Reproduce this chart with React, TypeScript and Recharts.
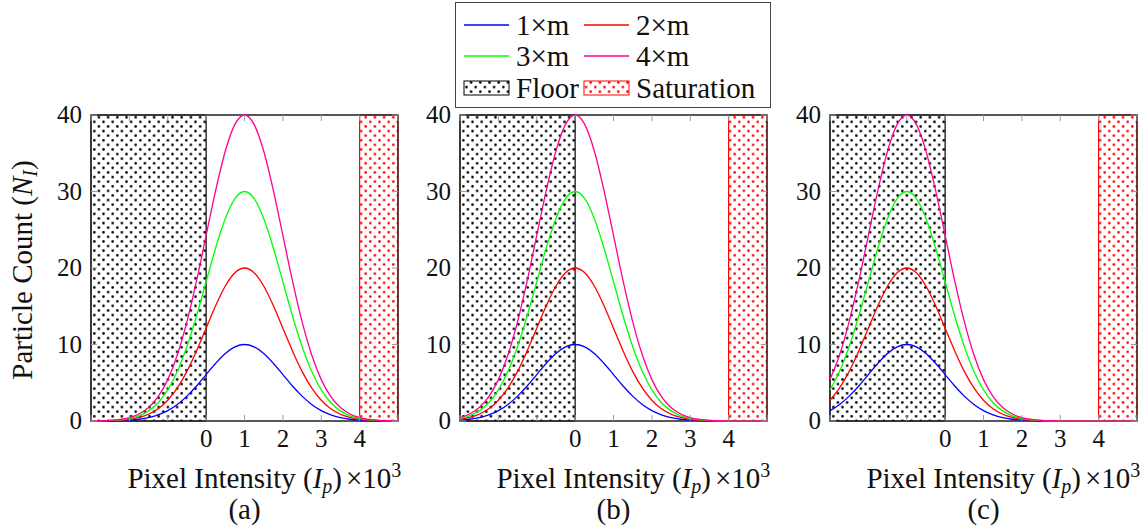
import React from 'react';
import { LineChart, Line, XAxis, YAxis, ReferenceArea } from 'recharts';

// pixel intensity (x10^3), shared by all three panels
const intensity = [
  -3, -2.75, -2.5, -2.25, -2, -1.75, -1.5, -1.25, -1, -0.75, -0.5, -0.25, 0,
  0.25, 0.5, 0.75, 1, 1.25, 1.5, 1.75, 2, 2.25, 2.5, 2.75, 3, 3.25, 3.5, 3.75,
  4, 4.25, 4.5, 4.75, 5,
];

// (a) peak at 1
const countsA1 = [0, 0.01, 0.02, 0.05, 0.11, 0.23, 0.44, 0.8, 1.35, 2.16, 3.25, 4.58, 6.07, 7.55, 8.83, 9.69, 10, 9.69, 8.83, 7.55, 6.07, 4.58, 3.25, 2.16, 1.35, 0.8, 0.44, 0.23, 0.11, 0.05, 0.02, 0.01, 0];
const countsA2 = [0.01, 0.02, 0.04, 0.1, 0.22, 0.46, 0.88, 1.59, 2.71, 4.33, 6.49, 9.16, 12.13, 15.1, 17.65, 19.38, 20, 19.38, 17.65, 15.1, 12.13, 9.16, 6.49, 4.33, 2.71, 1.59, 0.88, 0.46, 0.22, 0.1, 0.04, 0.02, 0.01];
const countsA3 = [0.01, 0.03, 0.07, 0.15, 0.33, 0.68, 1.32, 2.39, 4.06, 6.49, 9.74, 13.73, 18.2, 22.65, 26.48, 29.08, 30, 29.08, 26.48, 22.65, 18.2, 13.73, 9.74, 6.49, 4.06, 2.39, 1.32, 0.68, 0.33, 0.15, 0.07, 0.03, 0.01];
const countsA4 = [0.01, 0.04, 0.09, 0.2, 0.44, 0.91, 1.76, 3.18, 5.41, 8.65, 12.99, 18.31, 24.26, 30.19, 35.3, 38.77, 40, 38.77, 35.3, 30.19, 24.26, 18.31, 12.99, 8.65, 5.41, 3.18, 1.76, 0.91, 0.44, 0.2, 0.09, 0.04, 0.01];

// (b) peak at 0
const countsB1 = [0.11, 0.23, 0.44, 0.8, 1.35, 2.16, 3.25, 4.58, 6.07, 7.55, 8.83, 9.69, 10, 9.69, 8.83, 7.55, 6.07, 4.58, 3.25, 2.16, 1.35, 0.8, 0.44, 0.23, 0.11, 0.05, 0.02, 0.01, 0, 0, 0, 0, 0];
const countsB2 = [0.22, 0.46, 0.88, 1.59, 2.71, 4.33, 6.49, 9.16, 12.13, 15.1, 17.65, 19.38, 20, 19.38, 17.65, 15.1, 12.13, 9.16, 6.49, 4.33, 2.71, 1.59, 0.88, 0.46, 0.22, 0.1, 0.04, 0.02, 0.01, 0, 0, 0, 0];
const countsB3 = [0.33, 0.68, 1.32, 2.39, 4.06, 6.49, 9.74, 13.73, 18.2, 22.65, 26.48, 29.08, 30, 29.08, 26.48, 22.65, 18.2, 13.73, 9.74, 6.49, 4.06, 2.39, 1.32, 0.68, 0.33, 0.15, 0.07, 0.03, 0.01, 0, 0, 0, 0];
const countsB4 = [0.44, 0.91, 1.76, 3.18, 5.41, 8.65, 12.99, 18.31, 24.26, 30.19, 35.3, 38.77, 40, 38.77, 35.3, 30.19, 24.26, 18.31, 12.99, 8.65, 5.41, 3.18, 1.76, 0.91, 0.44, 0.2, 0.09, 0.04, 0.01, 0, 0, 0, 0];

// (c) peak at -1
const countsC1 = [1.35, 2.16, 3.25, 4.58, 6.07, 7.55, 8.83, 9.69, 10, 9.69, 8.83, 7.55, 6.07, 4.58, 3.25, 2.16, 1.35, 0.8, 0.44, 0.23, 0.11, 0.05, 0.02, 0.01, 0, 0, 0, 0, 0, 0, 0, 0, 0];
const countsC2 = [2.71, 4.33, 6.49, 9.16, 12.13, 15.1, 17.65, 19.38, 20, 19.38, 17.65, 15.1, 12.13, 9.16, 6.49, 4.33, 2.71, 1.59, 0.88, 0.46, 0.22, 0.1, 0.04, 0.02, 0.01, 0, 0, 0, 0, 0, 0, 0, 0];
const countsC3 = [4.06, 6.49, 9.74, 13.73, 18.2, 22.65, 26.48, 29.08, 30, 29.08, 26.48, 22.65, 18.2, 13.73, 9.74, 6.49, 4.06, 2.39, 1.32, 0.68, 0.33, 0.15, 0.07, 0.03, 0.01, 0, 0, 0, 0, 0, 0, 0, 0];
const countsC4 = [5.41, 8.65, 12.99, 18.31, 24.26, 30.19, 35.3, 38.77, 40, 38.77, 35.3, 30.19, 24.26, 18.31, 12.99, 8.65, 5.41, 3.18, 1.76, 0.91, 0.44, 0.2, 0.09, 0.04, 0.01, 0, 0, 0, 0, 0, 0, 0, 0];

const seriesNames = ['1×m', '2×m', '3×m', '4×m'];
const seriesColors = ['#0000ff', '#ff0000', '#00ff00', '#ff0090'];
const xTicks = [-3, -2, -1, 0, 1, 2, 3, 4, 5];
const xLabelled = [0, 1, 2, 3, 4];
const yTicks = [0, 10, 20, 30, 40];
const floorRange = [-3, 0];
const saturationRange = [4, 5];

const FONT = 'Liberation Serif';
const INK = '#111';
const TICK_GRAY = '#9a9a9a';
const TEXT_SIZE = 29;
const NUM_SIZE = 25;

// chart-local layout
const PL = 91;
const PW = 307;
const PR = PL + PW;
const PT = 115;
const PB = 421;
const CHART_W = PR + 10;
const CHART_H = 529;

const XTick = (props: any) => {
  const { x, payload } = props;
  const v = payload.value;
  return (
    <g>
      <line x1={x} x2={x} y1={PB} y2={PB - 6} stroke={TICK_GRAY} />
      <line x1={x} x2={x} y1={PT} y2={PT + 6} stroke={TICK_GRAY} />
      {xLabelled.includes(v) && (
        <text x={x} y={PB + 26} textAnchor="middle" fontSize={NUM_SIZE} fontFamily={FONT} fill={INK}>
          {v}
        </text>
      )}
    </g>
  );
};

const YTick = (props: any) => {
  const { y, payload } = props;
  return (
    <g>
      <line x1={PL} x2={PL + 6} y1={y} y2={y} stroke={TICK_GRAY} />
      <line x1={PR - 6} x2={PR} y1={y} y2={y} stroke={TICK_GRAY} />
      <text x={PL - 9} y={y + 8} textAnchor="end" fontSize={NUM_SIZE} fontFamily={FONT} fill={INK}>
        {payload.value}
      </text>
    </g>
  );
};

const XTitle = ({ caption }: { caption: string }) => (
  <g fill={INK}>
    <text x={PR - 56} y={488} textAnchor="end" fontSize={TEXT_SIZE} fontFamily={FONT}>
      Pixel Intensity (<tspan fontStyle="italic">I</tspan>
      <tspan fontStyle="italic" fontSize={20} dy={5}>p</tspan>
      <tspan dy={-5}>)</tspan>
    </text>
    <text x={PR - 52} y={488} textAnchor="start" fontSize={TEXT_SIZE} fontFamily={FONT}>
      ×10<tspan fontSize={20} dy={-11}>3</tspan>
    </text>
    <text x={PL + PW / 2} y={519} textAnchor="middle" fontSize={TEXT_SIZE} fontFamily={FONT}>
      {caption}
    </text>
  </g>
);

const YTitle = () => (
  <text
    x={32}
    y={270}
    transform="rotate(-90 32 270)"
    textAnchor="middle"
    fontSize={TEXT_SIZE}
    fontFamily={FONT}
    fill={INK}
  >
    Particle Count (<tspan fontStyle="italic">N</tspan>
    <tspan fontStyle="italic" fontSize={20} dy={5}>I</tspan>
    <tspan dy={-5}>)</tspan>
  </text>
);

interface PanelProps {
  left: number;
  counts: number[][];
  caption: string;
  showYTitle?: boolean;
}

const Panel: React.FC<PanelProps> = ({ left, counts, caption, showYTitle }) => {
  const data = intensity.map((x, i) => ({
    x,
    m1: counts[0][i],
    m2: counts[1][i],
    m3: counts[2][i],
    m4: counts[3][i],
  }));
  return (
    <div style={{ position: 'absolute', left: left - PL, top: 0 }}>
      <LineChart
        width={CHART_W}
        height={CHART_H}
        data={data}
        margin={{ top: PT, right: CHART_W - PR, bottom: CHART_H - PB - 30, left: PL - 50 }}
      >
        <XAxis
          type="number"
          dataKey="x"
          domain={[-3, 5]}
          ticks={xTicks}
          interval={0}
          height={30}
          axisLine={false}
          tickLine={false}
          tick={(p: any) => <XTick {...p} />}
          label={<XTitle caption={caption} />}
        />
        <YAxis
          type="number"
          domain={[0, 40]}
          ticks={yTicks}
          interval={0}
          width={50}
          axisLine={false}
          tickLine={false}
          tick={(p: any) => <YTick {...p} />}
          label={showYTitle ? <YTitle /> : undefined}
        />
        <ReferenceArea
          x1={floorRange[0]}
          x2={floorRange[1]}
          y1={0}
          y2={40}
          fill="url(#dotsBlack)"
          fillOpacity={1}
          stroke="#000"
          strokeWidth={1.2}
        />
        <ReferenceArea
          x1={saturationRange[0]}
          x2={saturationRange[1]}
          y1={0}
          y2={40}
          fill="url(#dotsRed)"
          fillOpacity={1}
          stroke="#ff0000"
          strokeWidth={1.2}
        />
        {seriesNames.map((name, i) => (
          <Line
            key={name}
            type="monotone"
            dataKey={`m${i + 1}`}
            name={name}
            stroke={seriesColors[i]}
            strokeWidth={1.3}
            dot={false}
            isAnimationActive={false}
          />
        ))}
        <ReferenceArea x1={-3} x2={5} y1={0} y2={40} fill="none" stroke="#222" strokeWidth={1.3} />
      </LineChart>
    </div>
  );
};

const LegendBox = () => {
  const rowY = [23, 54, 86];
  const colX = [9, 129];
  return (
    <svg width={316} height={106} style={{ position: 'absolute', left: 455, top: 2 }}>
      <rect x={0.5} y={0.5} width={315} height={105} fill="#fff" stroke="#444" />
      {seriesNames.map((name, i) => {
        const cx = colX[i % 2];
        const cy = rowY[Math.floor(i / 2)];
        return (
          <g key={name}>
            <line x1={cx} x2={cx + 45} y1={cy} y2={cy} stroke={seriesColors[i]} strokeWidth={1.3} />
            <text x={cx + 52} y={cy + 10} fontSize={TEXT_SIZE} fontFamily={FONT} fill={INK}>
              {name}
            </text>
          </g>
        );
      })}
      <rect x={colX[0]} y={rowY[2] - 7} width={45} height={14} fill="url(#dotsBlack)" stroke="#000" />
      <text x={colX[0] + 52} y={rowY[2] + 10} fontSize={TEXT_SIZE} fontFamily={FONT} fill={INK}>
        Floor
      </text>
      <rect x={colX[1]} y={rowY[2] - 7} width={45} height={14} fill="url(#dotsRed)" stroke="#ff0000" />
      <text x={colX[1] + 52} y={rowY[2] + 10} fontSize={TEXT_SIZE} fontFamily={FONT} fill={INK}>
        Saturation
      </text>
    </svg>
  );
};

export default function App() {
  return (
    <div style={{ position: 'absolute', left: 0, top: 0, width: 1148, height: 529, background: '#fff' }}>
      <svg width={0} height={0} style={{ position: 'absolute' }}>
        <defs>
          <pattern id="dotsBlack" width={9.2} height={9.2} patternUnits="userSpaceOnUse">
            <circle cx={2.3} cy={2.3} r={1.3} fill="#000" />
            <circle cx={6.9} cy={6.9} r={1.3} fill="#000" />
          </pattern>
          <pattern id="dotsRed" width={9.2} height={9.2} patternUnits="userSpaceOnUse">
            <circle cx={2.3} cy={2.3} r={1.3} fill="#ff0000" />
            <circle cx={6.9} cy={6.9} r={1.3} fill="#ff0000" />
          </pattern>
        </defs>
      </svg>
      <Panel left={91} counts={[countsA1, countsA2, countsA3, countsA4]} caption="(a)" showYTitle />
      <Panel left={460} counts={[countsB1, countsB2, countsB3, countsB4]} caption="(b)" />
      <Panel left={830} counts={[countsC1, countsC2, countsC3, countsC4]} caption="(c)" />
      <LegendBox />
    </div>
  );
}
